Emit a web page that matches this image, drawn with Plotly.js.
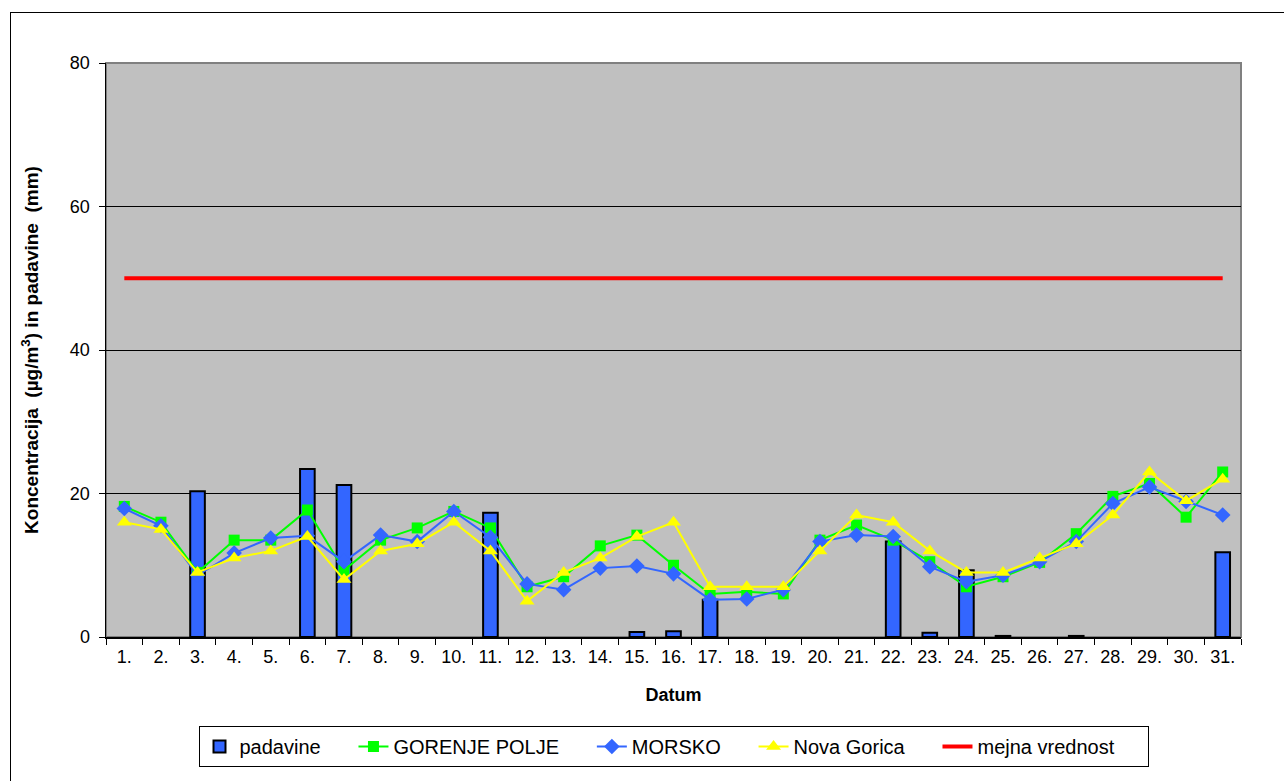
<!DOCTYPE html>
<html>
<head>
<meta charset="utf-8">
<script src="https://cdn.plot.ly/plotly-3.0.1.min.js"></script>
<style>
html,body{margin:0;padding:0;background:#fff;overflow:hidden;}
#wrap{position:relative;width:1284px;height:781px;}
#frame{position:absolute;left:10px;top:12px;width:1290px;height:790px;border:1.5px solid #000;box-sizing:border-box;pointer-events:none;}
#chart{position:absolute;left:0;top:0;width:1284px;height:781px;}
</style>
</head>
<body>
<div id="wrap">
<div id="frame"></div>
<div id="chart"></div>
</div>
<script>
const days = ["1.","2.","3.","4.","5.","6.","7.","8.","9.","10.","11.","12.","13.","14.","15.","16.","17.","18.","19.","20.","21.","22.","23.","24.","25.","26.","27.","28.","29.","30.","31."];
const padavine = [null,null,20.3,null,null,23.4,21.2,null,null,null,17.3,null,null,null,0.7,0.8,5.2,null,null,null,null,13.3,0.6,9.3,0.15,null,0.15,null,null,null,11.8];
const gorenjePolje = [18.2,16.0,9.0,13.5,13.5,17.7,9.3,13.5,15.2,17.5,15.2,7.0,8.4,12.7,14.2,10.0,6.0,6.3,6.0,13.5,15.6,13.5,10.5,7.0,8.4,10.4,14.4,19.6,21.4,16.7,23.0];
const morsko = [17.9,15.5,8.6,11.7,13.8,14.1,10.5,14.2,13.3,17.5,13.9,7.4,6.6,9.6,9.9,8.8,5.2,5.3,6.6,13.3,14.2,14.0,9.8,7.7,8.6,10.5,13.3,18.6,20.9,18.9,17.0];
const novaGorica = [16,15,9,11,12,14,8,12,13,16,12,5,9,11,14,16,7,7,7,12,17,16,12,9,9,11,13,17,23,19,22];
const mejnaVrednost = [50,50,50,50,50,50,50,50,50,50,50,50,50,50,50,50,50,50,50,50,50,50,50,50,50,50,50,50,50,50,50];
const yTicks = [0,20,40,60,80];

const font = "Liberation Sans, Arial, sans-serif";
const pad = "&nbsp;&nbsp;&nbsp;&nbsp;&nbsp;";
const traces = [
  {type:'bar', name:'padavine' + pad, x:days, y:padavine, width:0.4,
   marker:{color:'#3366FF', line:{color:'#000000', width:2}}},
  {type:'scatter', mode:'lines+markers', name:'GORENJE POLJE' + pad, x:days, y:gorenjePolje,
   line:{color:'#00FF00', width:2}, marker:{symbol:'square', size:11, color:'#00FF00'}},
  {type:'scatter', mode:'lines+markers', name:'MORSKO' + pad, x:days, y:morsko,
   line:{color:'#3366FF', width:2}, marker:{symbol:'diamond', size:12, color:'#3366FF'}},
  {type:'scatter', mode:'lines+markers', name:'Nova Gorica' + pad, x:days, y:novaGorica,
   line:{color:'#FFFF00', width:2}, marker:{symbol:'triangle-up', size:13, color:'#FFFF00'}},
  {type:'scatter', mode:'lines', name:'mejna vrednost' + pad, x:days, y:mejnaVrednost,
   line:{color:'#FF0000', width:4}}
];
const layout = {
  width:1284, height:781,
  margin:{l:106, r:43, t:63, b:144},
  paper_bgcolor:'rgba(0,0,0,0)',
  plot_bgcolor:'#C0C0C0',
  showlegend:true,
  font:{family:font, size:18, color:'#000'},
  xaxis:{type:'category', range:[-0.5,30.5], tickson:'boundaries', ticks:'outside', ticklen:6, tickcolor:'#000',
    showline:true, linecolor:'#000', linewidth:1.5, showgrid:false, ticklabelstandoff:3,
    tickfont:{family:font, size:18},
    title:{text:'<b>Datum</b>', font:{family:font, size:18}, standoff:22}},
  yaxis:{range:[0,80], tickvals:yTicks, ticks:'outside', ticklen:6, tickcolor:'#000',
    showline:true, linecolor:'#000', linewidth:1.5, showgrid:true, gridcolor:'#000', gridwidth:1,
    zeroline:false, tickfont:{family:font, size:18}, ticklabelstandoff:5,
    title:{text:'<b>Koncentracija&nbsp;&nbsp;(µg/m<sup>3</sup>) in padavine&nbsp;&nbsp;(mm)</b>', font:{family:font, size:19}, standoff:26}},
  legend:{orientation:'h', x:0.5, xanchor:'center', y:-0.155, yanchor:'top',
    bordercolor:'#000', borderwidth:1, bgcolor:'#fff', font:{family:font, size:20},
    traceorder:'normal'},
  shapes:[{type:'rect', xref:'paper', yref:'paper', x0:0, x1:1, y0:0, y1:1,
    line:{color:'#808080', width:2}, layer:'below'}]
};
Plotly.newPlot('chart', traces, layout, {displayModeBar:false, staticPlot:true});
</script>
</body>
</html>
